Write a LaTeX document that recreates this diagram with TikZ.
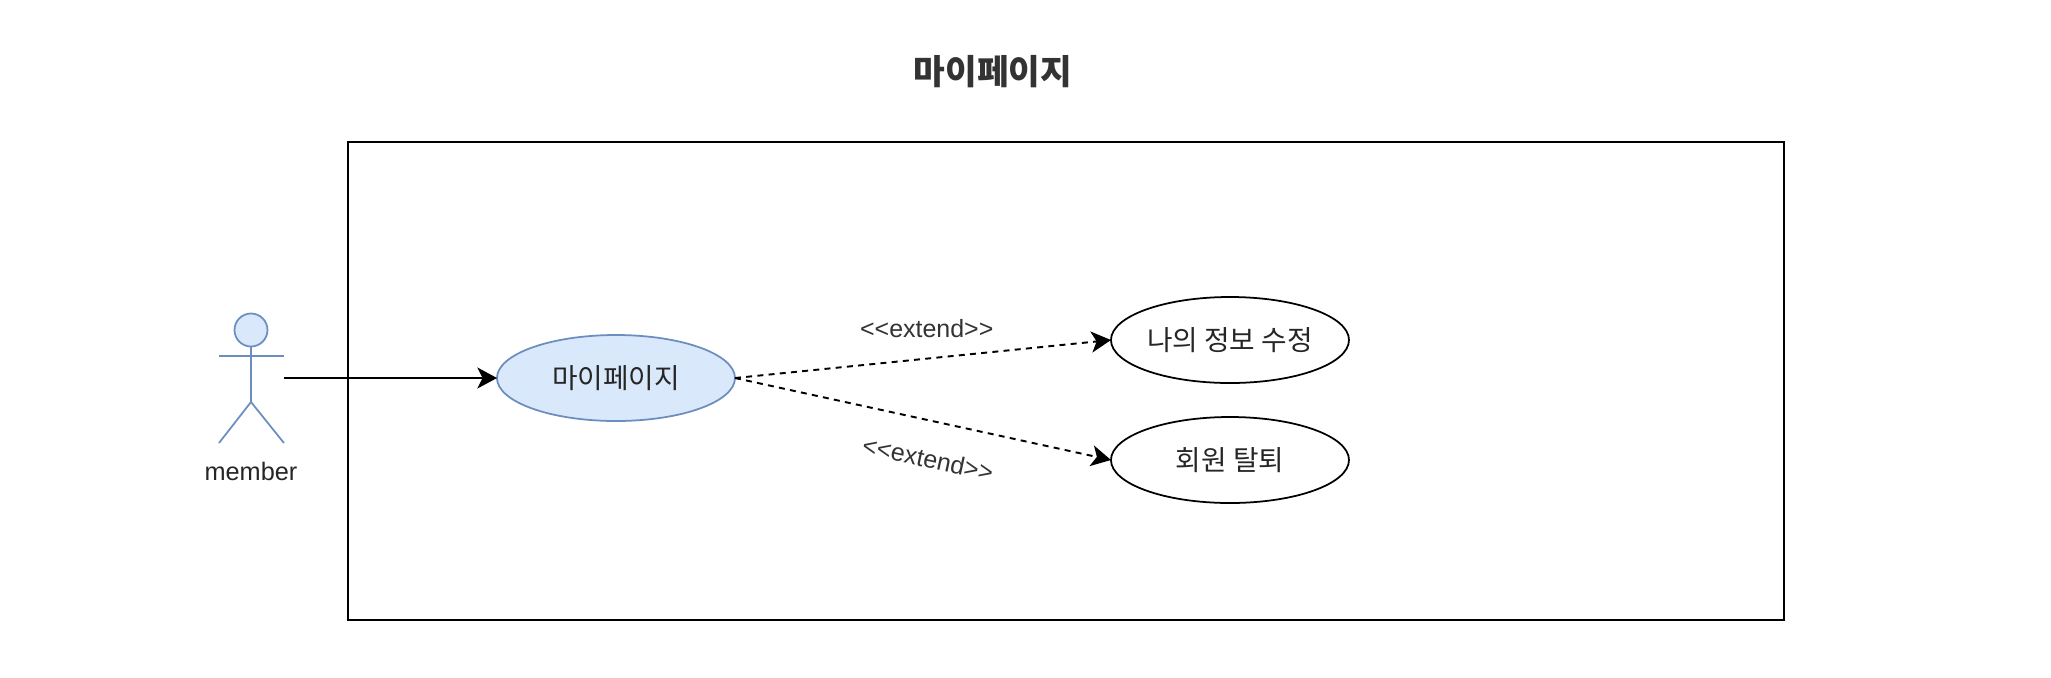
\documentclass[tikz,border=0pt]{standalone}
\usepackage{fontspec}
\setmainfont{Liberation Sans}
\newfontfamily\kor{Noto Sans CJK KR}
\usetikzlibrary{arrows.meta, positioning, shapes.geometric}
\definecolor{actorfill}{HTML}{DAE8FC}
\definecolor{actorline}{HTML}{6C8EBF}

\begin{document}
\begin{tikzpicture}[on grid,node distance=6cm,>={Stealth[length=5.6pt,width=6pt,inset=1.5pt]},
		usecase/.style={ellipse,draw=black,line width=0.5pt,minimum width=2.38cm,minimum height=0.86cm,inner sep=0pt,outer sep=0pt,font=\kor\fontsize{7.9}{9}\selectfont,text=black!85},
		actorpart/.style={draw=actorline,line width=0.5pt},
		extendedge/.style={->,dash pattern=on 1.7pt off 1.5pt,line width=0.55pt},
		extendlabel/.style={font=\fontsize{7.1}{9}\selectfont,text=black!80,inner sep=0pt}]
			\useasboundingbox (-6.16,-2.99) rectangle (14.35,3.78);
			\node[draw,line width=0.6pt,minimum width=14.36cm,minimum height=4.775cm,inner sep=0pt,outer sep=0pt] (system) at (4.5,-0.03) {};
			\node[font=\kor\bfseries\fontsize{9.8}{11}\selectfont,text=black!80] (title) at (3.77,3.06) {마이페이지};
			\node[usecase,draw=actorline,fill=actorfill] (mypage) {마이페이지};
			\node[usecase] (editinfo) [above right=0.38cm and 6.14cm of mypage] {나의 정보 수정};
			\node[usecase] (withdraw) [below right=0.82cm and 6.14cm of mypage] {회원 탈퇴};
			\node[actorpart,circle,fill=actorfill,minimum size=0.33cm,inner sep=0pt,outer sep=0pt] (memberhead) at (-3.65,0.48) {};
			\coordinate (memberhip) at (-3.65,-0.24);
			\coordinate (memberhand) at (-3.32,0.22);
			\coordinate (memberout) at (-3.32,0);
			\draw[actorpart] (memberhead) -- (memberhip);
			\draw[actorpart] (-3.97,0.22) -- (memberhand);
			\draw[actorpart] (-3.97,-0.65) -- (memberhip) -- (-3.32,-0.65);
			\node[font=\fontsize{7.2}{9}\selectfont,text=black!85] (member) at (-3.65,-0.93) {member};
			\draw[->,line width=0.55pt] (memberout) -- (mypage);
			\path[extendedge]
				(mypage.east) edge node[extendlabel,pos=0.51,above=0.2cm] {<{}<extend>{}>} (editinfo.west)
				(mypage.east) edge node[extendlabel,sloped,pos=0.535,below=0.28cm] {<{}<extend>{}>} (withdraw.west);
		\end{tikzpicture}
\end{document}
